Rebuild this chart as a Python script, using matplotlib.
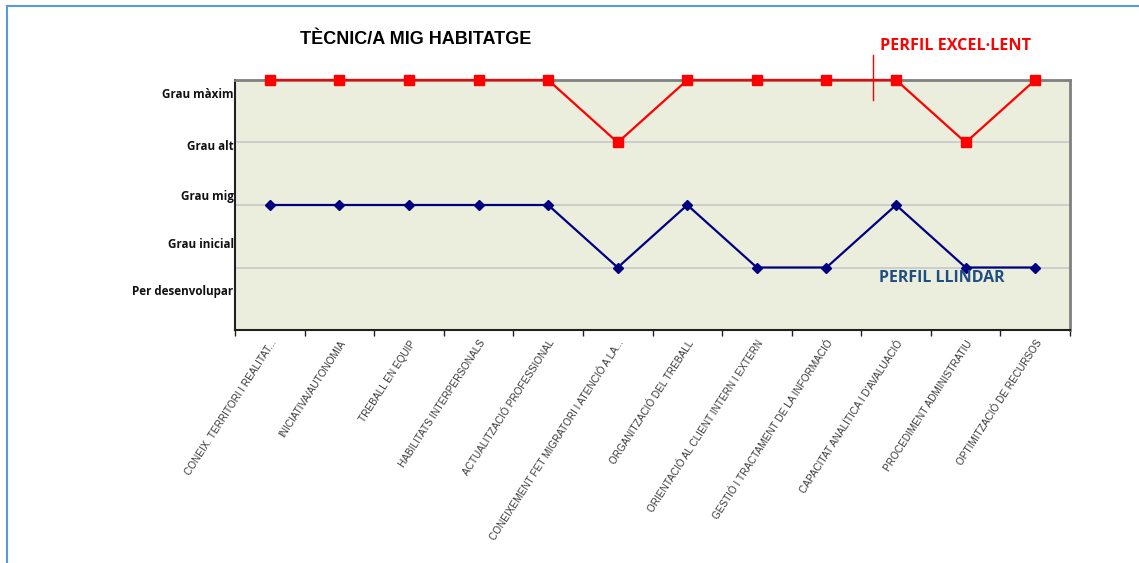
import matplotlib
matplotlib.use("Agg")
import matplotlib.pyplot as plt
from matplotlib.lines import Line2D

categories = [
    "CONEIX. TERRITORI I REALITAT...",
    "INICIATIVA/AUTONOMIA",
    "TREBALL EN EQUIP",
    "HABILITATS INTERPERSONALS",
    "ACTUALITZACIÓ PROFESSIONAL",
    "CONEIXEMENT FET MIGRATORI I ATENCIÓ A LA...",
    "ORGANITZACIÓ DEL TREBALL",
    "ORIENTACIÓ AL CLIENT INTERN I EXTERN",
    "GESTIÓ I TRACTAMENT DE LA INFORMACIÓ",
    "CAPACITAT ANALÍTICA I D'AVALUACIÓ",
    "PROCEDIMENT ADMINISTRATIU",
    "OPTIMITZACIÓ DE RECURSOS",
]
perfil_excellent = [4, 4, 4, 4, 4, 3, 4, 4, 4, 4, 3, 4]
perfil_llindar = [2, 2, 2, 2, 2, 1, 2, 1, 1, 2, 1, 1]
level_labels = ["Per desenvolupar", "Grau inicial", "Grau mig", "Grau alt", "Grau màxim"]
level_label_pos = [0.62, 1.36, 2.13, 2.93, 3.76]

W, H = 1139, 563
fig = plt.figure(figsize=(W / 100, H / 100), dpi=100)
fig.patch.set_facecolor("white")

# outer border (top and left visible)
fig.add_artist(Line2D([7 / W, 7 / W], [0, 1 - 6 / H], transform=fig.transFigure,
                      color="#5B9BD5", lw=1.5))
fig.add_artist(Line2D([7 / W, 1], [1 - 6 / H, 1 - 6 / H], transform=fig.transFigure,
                      color="#5B9BD5", lw=1.5))

ax = fig.add_axes([235 / W, 1 - 330 / H, (1070 - 235) / W, (330 - 80) / H])
ax.set_facecolor("#EBEEDC")
x = list(range(len(categories)))
ax.set_xlim(-0.5, len(categories) - 0.5)
ax.set_ylim(0, 4)

for yv in [1, 2, 3]:
    ax.axhline(yv, color="#C8C8C8", lw=1.2, zorder=1)

ax.plot(x, perfil_excellent, color="#FF0000", lw=1.6, marker="s", markersize=7.5,
        markeredgecolor="#FF0000", zorder=4, clip_on=False)
ax.plot(x, perfil_llindar, color="#000080", lw=1.6, marker="D", markersize=5.5,
        markeredgecolor="#000080", zorder=4, clip_on=False)

for s in ["left", "bottom"]:
    ax.spines[s].set_color("#202020")
    ax.spines[s].set_linewidth(1.5)
for s in ["top", "right"]:
    ax.spines[s].set_color("#808080")
    ax.spines[s].set_linewidth(2)

# x ticks between categories
ax.set_xticks([i - 0.5 for i in range(len(categories) + 1)], minor=False)
ax.set_xticklabels([])
ax.tick_params(axis="x", which="major", length=4, color="#202020", width=1)
ax.set_xticks(x, minor=True)
ax.set_xticklabels(categories, minor=True, rotation=57, ha="right", va="top",
                   rotation_mode="anchor", fontsize=7.2, color="#383838",
                   family="Liberation Sans")
ax.tick_params(axis="x", which="minor", length=0, pad=6)

ax.set_yticks([])
for lab, yp in zip(level_labels, level_label_pos):
    ax.text(-0.52, yp, lab, ha="right", va="center", fontsize=8.4, fontweight="bold",
            color="#111111", family="Open Sans")

fig.text(300 / W, 1 - 40 / H, "TÈCNIC/A MIG HABITATGE", ha="left", va="center",
         fontsize=13, fontweight="bold", family="Liberation Sans", color="black")
fig.text(880 / W, 1 - 46 / H, "PERFIL EXCEL·LENT", ha="left", va="center",
         fontsize=11.6, fontweight="bold", family="Open Sans", color="#FF0000")
fig.text(879 / W, 1 - 278 / H, "PERFIL LLINDAR", ha="left", va="center",
         fontsize=11.5, fontweight="bold", family="Open Sans", color="#1F4E82")
fig.add_artist(Line2D([873 / W, 873 / W], [1 - 55 / H, 1 - 100 / H],
                      transform=fig.transFigure, color="#FF0000", lw=1))

fig.savefig("out.png", dpi=100, facecolor="white")
